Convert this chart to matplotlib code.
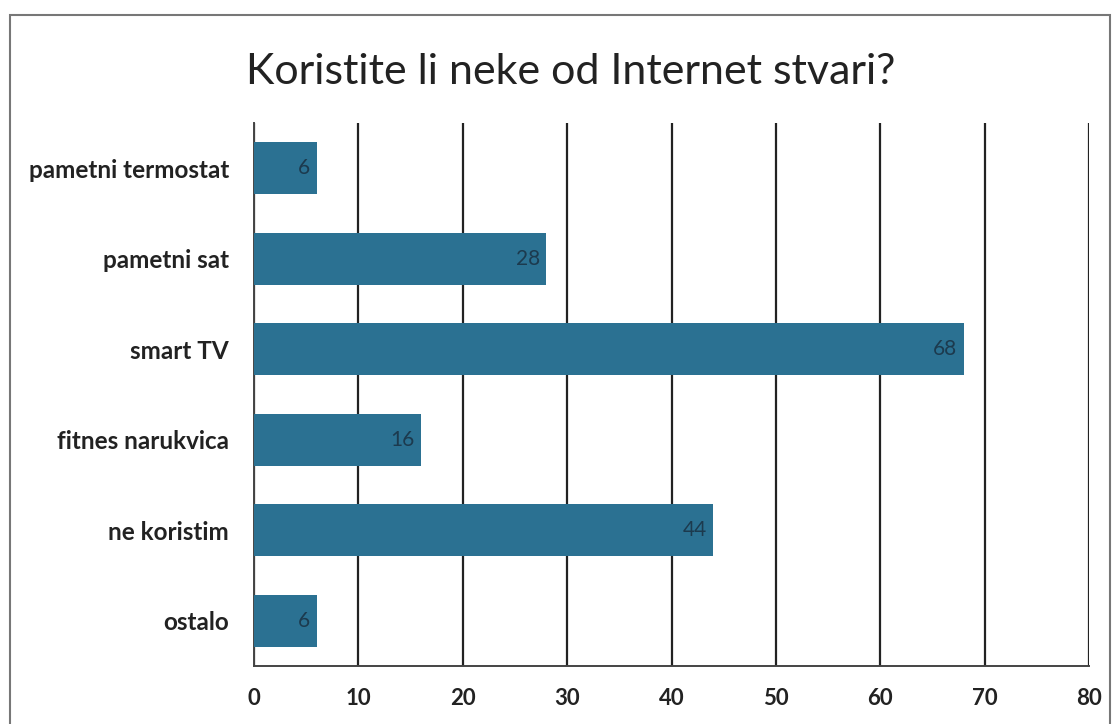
import matplotlib
matplotlib.use("Agg")
import matplotlib.pyplot as plt
from matplotlib.patches import Rectangle

categories = ["pametni termostat", "pametni sat", "smart TV", "fitnes narukvica", "ne koristim", "ostalo"]
values = [6, 28, 68, 16, 44, 6]
xticks = [0, 10, 20, 30, 40, 50, 60, 70, 80]
title = "Koristite li neke od Internet stvari?"

plt.rcParams['font.family'] = ['Lato', 'DejaVu Sans']

fig = plt.figure(figsize=(11.18, 7.24), dpi=100)
W, H = 1118, 724
ax = fig.add_axes([254 / W, 1 - 666 / H, (1089 - 254) / W, (666 - 123) / H])

ypos = list(range(len(categories)))
ax.barh(ypos, values, height=0.58, color="#2b7192", zorder=3)
ax.set_ylim(len(categories) - 0.5, -0.5)
ax.set_xlim(0, 80)
ax.set_xticks(xticks)
ax.set_xticklabels([str(t) for t in xticks], fontsize=16, fontweight="bold", color="#222222")
ax.set_yticks(ypos)
ax.set_yticklabels(categories, fontsize=17.5, fontweight="bold", color="#222222")
ax.tick_params(axis="y", length=0, pad=18)
ax.tick_params(axis="x", length=0, pad=16)
ax.grid(axis="x", color="#222222", linewidth=1.6, zorder=1)
for s in ["top", "right"]:
    ax.spines[s].set_visible(False)
for s in ["left", "bottom"]:
    ax.spines[s].set_color("#444444")
    ax.spines[s].set_linewidth(1.4)

for y, v in zip(ypos, values):
    ax.text(v - 0.6, y, str(v), ha="right", va="center", fontsize=15, color="#1c3a4e", zorder=4)

fig.text(571 / W, 1 - 72 / H, title, ha="center", va="center", fontsize=31, color="#222222")

# outer frame of the chart area
fig.add_artist(Rectangle((10 / W, -0.01), (1110 - 10) / W, (1 - 15 / H) + 0.01,
                         transform=fig.transFigure, fill=False, edgecolor="#777777", linewidth=1.5))

fig.savefig("out.png", dpi=100)
